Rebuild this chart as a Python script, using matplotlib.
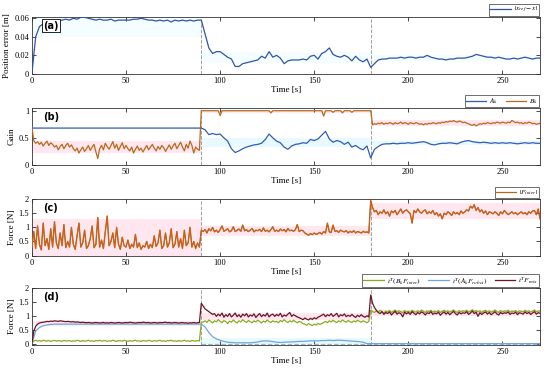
import numpy as np
import matplotlib
matplotlib.use('Agg')
from matplotlib import pyplot as plt

plt.rcParams['font.family'] = ['Liberation Serif', 'DejaVu Serif']
plt.rcParams['mathtext.fontset'] = 'stix'

# switching instants [s]
t_switch = [90, 180]

# (a) position error, sampled every 2 s
t2 = np.arange(0, 271, 2)
pos_err = [0.000, 0.040, 0.051, 0.054, 0.053, 0.056, 0.057, 0.057, 0.058, 0.059,
           0.058, 0.060, 0.059, 0.061, 0.061, 0.060, 0.059, 0.058, 0.059, 0.058,
           0.058, 0.059, 0.057, 0.058, 0.058, 0.058, 0.058, 0.059, 0.059, 0.060,
           0.059, 0.058, 0.058, 0.057, 0.058, 0.057, 0.058, 0.056, 0.058, 0.057,
           0.058, 0.057, 0.058, 0.057, 0.058, 0.058, 0.043, 0.028, 0.022, 0.024,
           0.024, 0.021, 0.018, 0.016, 0.008, 0.008, 0.011, 0.012, 0.013, 0.014,
           0.015, 0.019, 0.017, 0.024, 0.018, 0.020, 0.017, 0.011, 0.014, 0.015,
           0.015, 0.015, 0.016, 0.015, 0.019, 0.020, 0.016, 0.022, 0.024, 0.028,
           0.021, 0.019, 0.018, 0.020, 0.018, 0.014, 0.019, 0.015, 0.013, 0.016,
           0.007, 0.011, 0.015, 0.016, 0.016, 0.017, 0.017, 0.017, 0.018, 0.017,
           0.018, 0.018, 0.017, 0.018, 0.018, 0.020, 0.018, 0.017, 0.016, 0.016,
           0.015, 0.016, 0.016, 0.017, 0.017, 0.017, 0.018, 0.019, 0.021, 0.020,
           0.019, 0.018, 0.018, 0.017, 0.018, 0.017, 0.016, 0.016, 0.017, 0.016,
           0.017, 0.018, 0.017, 0.016, 0.017, 0.017]

# (b) gains
A_k = [0.68] * 46 + [0.65, 0.56, 0.58, 0.56, 0.57, 0.50, 0.44, 0.30, 0.23, 0.26,
       0.30, 0.33, 0.35, 0.37, 0.38, 0.40, 0.47, 0.57, 0.50, 0.44,
       0.41, 0.33, 0.29, 0.35, 0.38, 0.39, 0.41, 0.40, 0.47, 0.45,
       0.48, 0.55, 0.62, 0.48, 0.42, 0.45, 0.43, 0.38, 0.42, 0.33,
       0.36, 0.31, 0.28, 0.35, 0.13, 0.29, 0.34, 0.38, 0.39, 0.39,
       0.40, 0.39, 0.40, 0.40, 0.41, 0.40, 0.41, 0.42, 0.43, 0.41,
       0.38, 0.37, 0.39, 0.40, 0.40, 0.41, 0.40, 0.39, 0.42, 0.44,
       0.45, 0.43, 0.42, 0.41, 0.42, 0.41, 0.40, 0.41, 0.40, 0.41,
       0.40, 0.41, 0.40, 0.39, 0.40, 0.41, 0.40, 0.41, 0.40, 0.40]

t1 = np.arange(0, 271, 1)
B_k = [0.70, 0.45, 0.40, 0.43, 0.38, 0.42, 0.35, 0.40, 0.44, 0.36,
       0.41, 0.38, 0.33, 0.36, 0.28, 0.34, 0.38, 0.30, 0.36, 0.40,
       0.33, 0.37, 0.30, 0.26, 0.31, 0.22, 0.28, 0.33, 0.25, 0.30,
       0.36, 0.27, 0.33, 0.38, 0.24, 0.12, 0.30, 0.36, 0.28, 0.40,
       0.34, 0.29, 0.36, 0.43, 0.31, 0.38, 0.27, 0.34, 0.41, 0.30,
       0.36, 0.30, 0.26, 0.33, 0.22, 0.29, 0.35, 0.27, 0.31, 0.24,
       0.30, 0.36, 0.28, 0.33, 0.38, 0.31, 0.26, 0.34, 0.29, 0.36,
       0.32, 0.25, 0.31, 0.37, 0.29, 0.35, 0.40, 0.30, 0.36, 0.42,
       0.33, 0.26, 0.38, 0.31, 0.44, 0.36, 0.22, 0.33, 0.29, 0.27,
       1.00, 1.00, 1.00, 1.00, 1.00, 1.00, 1.00, 1.00, 1.00, 1.00,
       0.91, 1.00, 1.00, 1.00, 1.00, 1.00, 1.00, 1.00, 1.00, 1.00,
       1.00, 1.00, 1.00, 1.00, 1.00, 1.00, 1.00, 1.00, 1.00, 1.00,
       1.00, 1.00, 1.00, 1.00, 1.00, 1.00, 1.00, 0.96, 1.00, 1.00,
       1.00, 1.00, 1.00, 1.00, 1.00, 1.00, 1.00, 1.00, 1.00, 1.00,
       1.00, 1.00, 1.00, 1.00, 1.00, 1.00, 1.00, 1.00, 1.00, 1.00,
       1.00, 1.00, 1.00, 1.00, 1.00, 0.90, 1.00, 1.00, 1.00, 1.00,
       0.97, 1.00, 1.00, 1.00, 1.00, 0.96, 1.00, 1.00, 1.00, 1.00,
       0.97, 1.00, 1.00, 1.00, 1.00, 1.00, 1.00, 1.00, 1.00, 1.00,
       1.00, 0.74, 0.76, 0.75, 0.77, 0.76, 0.78, 0.75, 0.77, 0.76,
       0.78, 0.77, 0.75, 0.78, 0.76, 0.77, 0.79, 0.76, 0.78, 0.77,
       0.75, 0.78, 0.77, 0.76, 0.78, 0.77, 0.75, 0.76, 0.74, 0.76,
       0.75, 0.77, 0.76, 0.78, 0.77, 0.76, 0.78, 0.77, 0.79, 0.78,
       0.80, 0.79, 0.81, 0.80, 0.82, 0.80, 0.79, 0.81, 0.80, 0.78,
       0.79, 0.77, 0.76, 0.74, 0.73, 0.75, 0.72, 0.74, 0.76, 0.75,
       0.77, 0.76, 0.78, 0.77, 0.76, 0.78, 0.77, 0.79, 0.78, 0.77,
       0.79, 0.78, 0.77, 0.79, 0.78, 0.82, 0.80, 0.78, 0.79, 0.77,
       0.78, 0.76, 0.78, 0.77, 0.79, 0.78, 0.76, 0.77, 0.75, 0.76,
       0.77]

# (c) interaction force
F_inter = [0.30, 0.85, 0.25, 1.05, 0.40, 0.20, 1.15, 0.35, 0.60, 0.22,
           0.95, 0.30, 1.20, 0.45, 0.25, 0.80, 0.35, 1.10, 0.28, 0.50,
           0.30, 1.00, 0.40, 0.22, 0.70, 1.15, 0.30, 0.45, 0.90, 0.25,
           0.35, 0.60, 1.05, 0.28, 0.40, 1.35, 0.30, 0.55, 0.25, 0.85,
           1.40, 0.35, 0.50, 0.80, 0.28, 1.00, 0.40, 0.22, 0.65, 0.35,
           0.30, 0.55, 0.25, 0.40, 0.30, 0.75, 0.28, 0.45, 0.22, 0.35,
           0.30, 0.50, 0.25, 0.40, 0.28, 0.70, 0.32, 0.45, 0.90, 0.25,
           0.35, 0.80, 0.30, 0.45, 0.95, 0.28, 0.40, 0.85, 0.30, 0.60,
           0.25, 0.90, 0.35, 0.45, 1.00, 0.30, 0.50, 0.25, 0.45, 0.30,
           0.90, 0.85, 0.92, 0.80, 0.95, 0.88, 1.00, 0.84, 0.90, 0.82,
           0.92, 1.05, 0.86, 0.90, 0.95, 0.84, 0.88, 1.02, 0.85, 0.90,
           0.94, 0.86, 1.08, 0.88, 0.92, 0.85, 0.90, 0.96, 0.84, 0.90,
           0.88, 0.93, 0.85, 0.98, 0.86, 0.90, 0.84, 0.92, 1.02, 0.86,
           0.90, 0.85, 0.94, 0.88, 0.92, 0.84, 0.96, 0.88, 0.90, 0.86,
           0.92, 1.10, 0.85, 0.90, 0.88, 0.80, 0.76, 0.72, 0.78, 0.74,
           0.80, 0.75, 0.78, 0.82, 0.76, 0.85, 0.80, 1.15, 0.84, 0.82,
           1.08, 0.86, 0.88, 0.82, 0.90, 0.86, 0.84, 0.88, 0.80, 0.86,
           0.82, 0.88, 0.80, 0.85, 0.83, 0.80, 0.86, 0.82, 0.84, 0.80,
           1.95, 1.70, 1.55, 1.60, 1.45, 1.55, 1.50, 1.62, 1.48, 1.55,
           1.40, 1.58, 1.52, 1.60, 1.45, 1.55, 1.65, 1.50, 1.58, 1.62,
           1.55, 1.48, 1.15, 1.60, 1.52, 1.65, 1.55, 1.50, 1.58, 1.62,
           1.48, 1.55, 1.50, 1.60, 1.45, 1.52, 1.40, 1.48, 1.30, 1.50,
           1.45, 1.55, 1.50, 1.42, 1.55, 1.48, 1.52, 1.45, 1.58, 1.50,
           1.55, 1.62, 1.58, 1.75, 1.68, 1.80, 1.60, 1.70, 1.55, 1.62,
           1.50, 1.58, 1.45, 1.55, 1.52, 1.48, 1.55, 1.50, 1.42, 1.55,
           1.48, 1.60, 1.52, 1.45, 1.50, 1.55, 1.48, 1.52, 1.45, 1.50,
           1.55, 1.48, 1.52, 1.45, 1.55, 1.50, 1.58, 1.60, 1.45, 1.65,
           1.30]

# (d) force components
BF_inter = [0.00, 0.10, 0.12, 0.09, 0.11, 0.08, 0.12, 0.10, 0.09, 0.11,
            0.08, 0.10, 0.12, 0.09, 0.11, 0.10, 0.08, 0.12, 0.09, 0.10,
            0.11, 0.08, 0.10, 0.09, 0.12, 0.10, 0.08, 0.11, 0.09, 0.10,
            0.12, 0.09, 0.10, 0.08, 0.11, 0.10, 0.12, 0.09, 0.10, 0.11,
            0.08, 0.10, 0.09, 0.12, 0.10, 0.08, 0.11, 0.10, 0.09, 0.12,
            0.10, 0.08, 0.11, 0.09, 0.10, 0.12, 0.09, 0.10, 0.08, 0.11,
            0.10, 0.09, 0.12, 0.10, 0.08, 0.11, 0.09, 0.10, 0.12, 0.09,
            0.10, 0.08, 0.11, 0.10, 0.12, 0.09, 0.10, 0.08, 0.11, 0.09,
            0.10, 0.12, 0.09, 0.10, 0.08, 0.11, 0.10, 0.09, 0.11, 0.10,
            0.75, 0.78, 0.82, 0.76, 0.85, 0.80, 0.74, 0.82, 0.78, 0.86,
            0.80, 0.75, 0.83, 0.79, 0.72, 0.81, 0.77, 0.85, 0.79, 0.74,
            0.82, 0.78, 0.86, 0.80, 0.76, 0.83, 0.79, 0.75, 0.82, 0.78,
            0.84, 0.80, 0.74, 0.81, 0.77, 0.85, 0.79, 0.76, 0.82, 0.78,
            0.80, 0.75, 0.83, 0.79, 0.86, 0.80, 0.76, 0.82, 0.78, 0.84,
            0.79, 0.75, 0.80, 0.77, 0.72, 0.70, 0.66, 0.72, 0.68, 0.65,
            0.70, 0.67, 0.73, 0.69, 0.72, 0.76, 0.80, 0.75, 0.82, 0.78,
            0.84, 0.79, 0.76, 0.82, 0.78, 0.85, 0.80, 0.77, 0.83, 0.79,
            0.76, 0.82, 0.78, 0.84, 0.80, 0.77, 0.82, 0.79, 0.75, 0.80,
            1.20, 1.15, 1.12, 1.18, 1.13, 1.20, 1.15, 1.10, 1.17, 1.14,
            1.19, 1.12, 1.16, 1.21, 1.13, 1.18, 1.15, 1.11, 1.19, 1.14,
            1.17, 1.12, 1.20, 1.15, 1.13, 1.18, 1.14, 1.21, 1.16, 1.12,
            1.18, 1.15, 1.20, 1.13, 1.17, 1.14, 1.19, 1.12, 1.16, 1.20,
            1.14, 1.18, 1.13, 1.17, 1.21, 1.15, 1.12, 1.19, 1.14, 1.18,
            1.16, 1.20, 1.13, 1.17, 1.22, 1.15, 1.19, 1.14, 1.18, 1.12,
            1.17, 1.20, 1.14, 1.18, 1.13, 1.16, 1.21, 1.15, 1.12, 1.19,
            1.14, 1.18, 1.16, 1.20, 1.13, 1.17, 1.15, 1.19, 1.12, 1.18,
            1.16, 1.14, 1.20, 1.15, 1.18, 1.13, 1.17, 1.21, 1.14, 1.18,
            1.16]

F_mix = [0.00, 0.45, 0.62, 0.70, 0.74, 0.76, 0.77, 0.78, 0.80, 0.79,
         0.81, 0.80, 0.82, 0.81, 0.80, 0.82, 0.81, 0.80, 0.79, 0.80,
         0.79, 0.78, 0.79, 0.77, 0.78, 0.77, 0.76, 0.77, 0.76, 0.75,
         0.76, 0.75, 0.74, 0.75, 0.76, 0.75, 0.74, 0.75, 0.76, 0.74,
         0.75, 0.74, 0.76, 0.75, 0.74, 0.75, 0.76, 0.75, 0.74, 0.75,
         0.76, 0.75, 0.77, 0.76, 0.75, 0.74, 0.75, 0.76, 0.75, 0.77,
         0.76, 0.75, 0.76, 0.74, 0.75, 0.76, 0.75, 0.74, 0.76, 0.75,
         0.76, 0.77, 0.75, 0.76, 0.74, 0.75, 0.76, 0.75, 0.74, 0.75,
         0.76, 0.74, 0.75, 0.73, 0.75, 0.74, 0.76, 0.74, 0.75, 0.76,
         1.45, 1.35, 1.25, 1.20, 1.15, 1.10, 1.05, 1.08, 0.98, 1.06,
         1.00, 1.10, 0.95, 1.04, 0.98, 1.08, 0.96, 1.02, 1.10, 0.97,
         1.04, 0.95, 1.06, 1.00, 1.08, 0.96, 1.03, 0.99, 1.07, 0.94,
         1.02, 1.08, 0.97, 1.04, 0.99, 1.10, 0.96, 1.03, 1.06, 0.98,
         1.05, 1.00, 1.09, 0.96, 1.03, 0.99, 1.06, 1.12, 0.98, 1.04,
         1.00, 0.96, 0.93, 0.90, 0.86, 0.92, 0.88, 0.85, 0.91, 0.87,
         0.93, 0.89, 0.95, 0.98, 1.02, 1.06, 0.97, 1.04, 1.00, 1.08,
         0.98, 1.03, 1.09, 0.96, 1.04, 1.00, 1.07, 0.97, 1.02, 0.98,
         1.05, 0.99, 0.94, 1.02, 0.97, 1.04, 0.98, 0.95, 1.00, 0.96,
         1.75, 1.45, 1.30, 1.20, 1.12, 1.08, 1.15, 1.05, 1.12, 1.08,
         1.14, 1.03, 1.10, 1.16, 1.06, 1.11, 1.08, 0.96, 1.13, 1.07,
         1.12, 1.05, 1.15, 1.09, 1.04, 1.12, 1.07, 1.14, 1.10, 1.03,
         1.11, 1.08, 1.15, 1.05, 1.10, 1.07, 1.13, 1.02, 1.09, 1.14,
         1.06, 1.12, 1.04, 1.10, 1.16, 1.08, 1.03, 1.12, 1.07, 1.11,
         1.09, 1.15, 1.05, 1.10, 1.17, 1.08, 1.13, 0.98, 1.11, 1.05,
         1.10, 1.14, 1.06, 1.12, 1.04, 1.09, 1.15, 1.07, 1.03, 1.12,
         1.07, 1.11, 1.09, 1.14, 1.05, 1.10, 1.08, 1.13, 1.04, 1.11,
         1.09, 1.06, 1.14, 1.08, 1.12, 1.05, 1.10, 1.15, 1.06, 1.11,
         1.09]

AF_robot = [0.00, 0.45, 0.58, 0.64, 0.67, 0.69] + [0.70] * 40 + \
           [0.60, 0.40, 0.25, 0.17, 0.12, 0.08, 0.05, 0.04, 0.03, 0.03,
            0.03, 0.03, 0.03, 0.04, 0.06, 0.09, 0.10, 0.09, 0.07, 0.05,
            0.04, 0.05, 0.06, 0.06, 0.07, 0.08, 0.08, 0.09, 0.10, 0.10,
            0.10, 0.11, 0.11, 0.12, 0.11, 0.12, 0.12, 0.11, 0.10, 0.09,
            0.08, 0.07, 0.05, 0.00] + [0.0] * 46

# shaded bands, one (low, high) per phase
band_a = ([0.040, 0.012, 0.014], [0.060, 0.024, 0.020])
band_bB = ([0.22, 0.95, 0.72], [0.45, 1.00, 0.82])
band_bA = ([0.68, 0.34, 0.36], [0.68, 0.50, 0.44])
band_c = ([0.00, 0.70, 1.30], [1.30, 1.05, 1.85])
band_dF = ([0.65, 0.85, 1.00], [0.80, 1.10, 1.20])
band_dA = ([0.68, 0.00, 0.00], [0.72, 0.20, 0.00])

phase_edges = [0, 90, 180, 270]

ylabels = ['Position error [m]', 'Gain', 'Force [N]', 'Force [N]']
panel_tags = ['(a)', '(b)', '(c)', '(d)']
yticks = [[0, 0.02, 0.04, 0.06], [0, 0.5, 1], [0, 0.5, 1, 1.5, 2], [0, 0.5, 1, 1.5, 2]]
yticklabels = [['0', '0.02', '0.04', '0.06'], ['0', '0.5', '1'],
               ['0', '0.5', '1', '1.5', '2'], ['0', '0.5', '1', '1.5', '2']]
ylims = [(0, 0.0615), (0, 1.05), (-0.02, 2), (-0.05, 2)]

pink = '#ffe6ef'
cyan = '#e8faff'


def band(ax, lohi, color):
    lo, hi = lohi
    for i in range(3):
        ax.fill_between(phase_edges[i:i + 2], [lo[i]] * 2, [hi[i]] * 2,
                        color=color, lw=0, zorder=1)


fig = plt.figure(figsize=(5.5, 3.75), dpi=100)
bottoms = [0.803, 0.560, 0.317, 0.080]
axs = [fig.add_axes([0.058, b, 0.924, 0.152]) for b in bottoms]

# (a)
ax = axs[0]
band(ax, band_a, '#f4fdff')
ax.plot(t2, pos_err, color='#2f55a8', lw=0.9, zorder=3, label=r'$|x_{ref} - x|$')

# (b)
ax = axs[1]
band(ax, band_bB, pink)
band(ax, band_bA, cyan)
ax.plot(t2, A_k, color='#2f5db5', lw=0.9, zorder=3, label=r'$A_k$')
ax.plot(t1, B_k, color='#b8691c', lw=0.9, zorder=3, label=r'$B_k$')

# (c)
ax = axs[2]
band(ax, band_c, pink)
ax.plot(t1, F_inter, color='#8c7a1e', lw=1.0, zorder=3)
ax.plot(t1, F_inter, color='#e8531a', lw=0.6, zorder=4)
ax.plot([], [], color='#b5671d', lw=0.9, label=r'$|F_{inter}|$')

# (d)
ax = axs[3]
band(ax, band_dF, pink)
band(ax, band_dA, cyan)
ax.hlines(0, t_switch[0], t1[-1], colors='#9fb6c6', linestyles='--', lw=0.9, zorder=2)
ax.plot(t1, BF_inter, color='#86ac1e', lw=0.9, zorder=3, label=r'$\iota^T(B_kF_{inter})$')
ax.plot(t2, AF_robot, color='#6fa6dc', lw=0.9, zorder=3, label=r'$\iota^T(A_kF_{robot})$')
ax.plot(t1, F_mix, color='#6b1426', lw=0.9, zorder=4, label=r'$\iota^TF_{mix}$')

for i, ax in enumerate(axs):
    for ts in t_switch:
        ax.axvline(ts, color='#a0a0a0', ls='--', lw=0.7, zorder=2)
    ax.set_xlim(0, 270)
    ax.set_ylim(*ylims[i])
    ax.set_xticks([0, 50, 100, 150, 200, 250])
    ax.set_yticks(yticks[i])
    ax.set_yticklabels(yticklabels[i])
    ax.tick_params(direction='in', top=True, right=True, length=3, width=0.5,
                   labelsize=6, pad=2)
    for s in ax.spines.values():
        s.set_linewidth(0.6)
        s.set_color('#333333')
    ax.set_ylabel(ylabels[i], fontsize=6.5, labelpad=2)
    ax.set_xlabel('Time [s]', fontsize=6.5, labelpad=1)
    box = dict(boxstyle='square,pad=0.15', fc='white', ec='black', lw=0.6) if i == 0 else None
    ax.text(0.022, 0.93, panel_tags[i], transform=ax.transAxes, va='top', ha='left',
            fontsize=7, fontweight='bold', family='DejaVu Sans', bbox=box, zorder=6)
    leg = ax.legend(loc='lower right', bbox_to_anchor=(1, 1.0), ncol=3, fontsize=5.3,
                    frameon=True, fancybox=False, borderaxespad=0.1, handlelength=2.8,
                    borderpad=0.15, handletextpad=0.4, columnspacing=1.0)
    leg.get_frame().set_edgecolor('black')
    leg.get_frame().set_linewidth(0.5)

fig.savefig('out.png', dpi=100)
